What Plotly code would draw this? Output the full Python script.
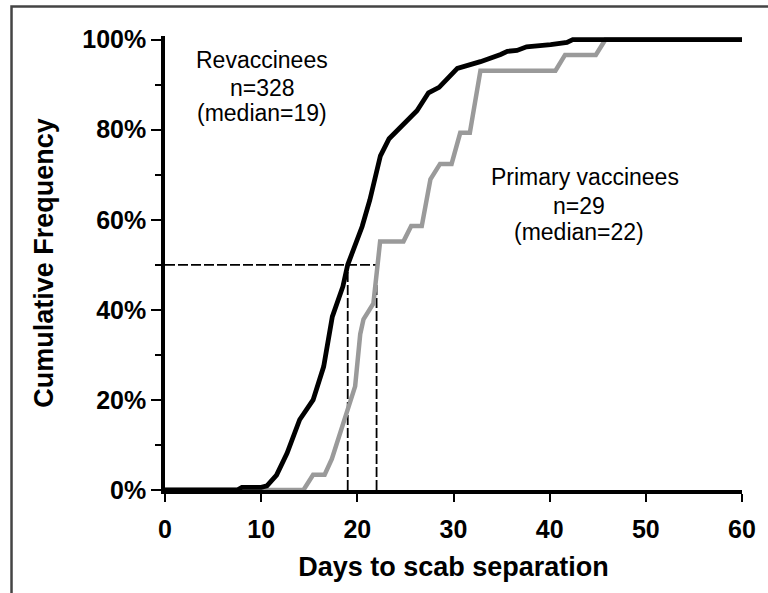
import plotly.graph_objects as go

# Revaccinees (black)
revac_days = [0, 7.5, 8.0, 10.0, 10.6, 11.6, 12.7, 14.0, 15.4, 16.5, 17.4, 18.5, 19.0, 20.5,
              21.3, 22.4, 23.3, 24.5, 26.2, 27.4, 28.5, 30.4, 32.8, 34.9, 35.6, 36.6, 37.6,
              40.1, 41.8, 42.4, 60]
revac_pct = [0, 0, 0.6, 0.6, 0.9, 3.3, 8.2, 15.6, 20.0, 27.4, 38.5, 45.2, 50.0, 58.5,
             64.4, 74.2, 78.0, 80.5, 84.2, 88.2, 89.4, 93.6, 95.1, 96.7, 97.4, 97.6, 98.4,
             98.9, 99.4, 100, 100]

# Primary vaccinees (gray)
prim_days = [0, 14.4, 15.4, 16.6, 17.35, 18.2, 19.07, 19.77, 20.3, 20.64, 21.67, 22.37, 24.8,
             25.6, 26.7, 27.6, 28.6, 29.8, 30.7, 31.7, 32.8, 40.6, 41.6, 44.8, 45.8, 60]
prim_pct = [0, 0, 3.4, 3.4, 6.9, 12.6, 18.4, 23.0, 34.6, 37.9, 41.4, 55.2, 55.2,
            58.6, 58.6, 69.0, 72.4, 72.4, 79.3, 79.3, 93.1, 93.1, 96.6, 96.6, 100, 100]

medians = [19, 22]
median_level = 50

y_tick_vals = [0, 20, 40, 60, 80, 100]
y_tick_text = ["0%", "20%", "40%", "60%", "80%", "100%"]
x_tick_vals = [0, 10, 20, 30, 40, 50, 60]

revac_label = ["Revaccinees", "n=328", "(median=19)"]
prim_label = ["Primary vaccinees", "n=29", "(median=22)"]

FONT = "Liberation Sans, Arial, sans-serif"

fig = go.Figure()

# median guide lines
fig.add_trace(go.Scatter(x=[0, medians[1]], y=[median_level, median_level], mode="lines",
                         line=dict(color="black", width=1.8, dash="10px,3px"),
                         showlegend=False, hoverinfo="skip"))
for m in medians:
    fig.add_trace(go.Scatter(x=[m, m], y=[0, median_level], mode="lines",
                             line=dict(color="black", width=1.8, dash="10px,3px"),
                             showlegend=False, hoverinfo="skip"))

fig.add_trace(go.Scatter(x=prim_days, y=prim_pct, mode="lines",
                         line=dict(color="#9a9a9a", width=4.5), showlegend=False))
fig.add_trace(go.Scatter(x=revac_days, y=revac_pct, mode="lines",
                         line=dict(color="black", width=4.8), showlegend=False))

for txt, xx, yy in zip(revac_label, [10.1, 10.1, 10.1], [95.4, 89.2, 83.6]):
    fig.add_annotation(x=xx, y=yy, text=txt, showarrow=False,
                       font=dict(family=FONT, size=23, color="black"))
for txt, xx, yy in zip(prim_label, [43.7, 43.0, 43.1], [69.4, 63.0, 57.2]):
    fig.add_annotation(x=xx, y=yy, text=txt, showarrow=False,
                       font=dict(family=FONT, size=23, color="black"))

# outer frame
fig.add_shape(type="rect", xref="paper", yref="paper", x0=-0.266, x1=1.2, y0=-0.4, y1=1.065,
              line=dict(color="#444444", width=2.5), fillcolor="rgba(0,0,0,0)", layer="below")

fig.update_xaxes(range=[0, 60], tickvals=x_tick_vals, ticks="outside", ticklen=8, tickwidth=2,
                 tickcolor="black", showline=True, linewidth=3.5, linecolor="black",
                 showgrid=False, zeroline=False, ticklabelstandoff=6,
                 tickfont=dict(family=FONT, size=25, color="black", weight="bold"),
                 title=dict(text="Days to scab separation", standoff=16,
                            font=dict(family=FONT, size=27, color="black", weight="bold")))
fig.update_yaxes(range=[0, 100.8], tickvals=y_tick_vals, ticktext=y_tick_text, ticks="outside",
                 ticklen=10, tickwidth=2, tickcolor="black", showline=True, linewidth=3.5,
                 linecolor="black", showgrid=False, zeroline=False,
                 minor=dict(tickvals=[10, 30, 50, 70, 90], ticks="outside", ticklen=6,
                            tickwidth=2, tickcolor="black"),
                 tickfont=dict(family=FONT, size=25, color="black", weight="bold"),
                 title=dict(text="Cumulative Frequency", standoff=22,
                            font=dict(family=FONT, size=27, color="black", weight="bold")))

fig.update_layout(width=768, height=593, margin=dict(l=165, r=26, t=36, b=103),
                  plot_bgcolor="white", paper_bgcolor="white", showlegend=False)

fig.write_html("out.html", config={"displayModeBar": False},
               post_script="document.body.style.margin='0';")
